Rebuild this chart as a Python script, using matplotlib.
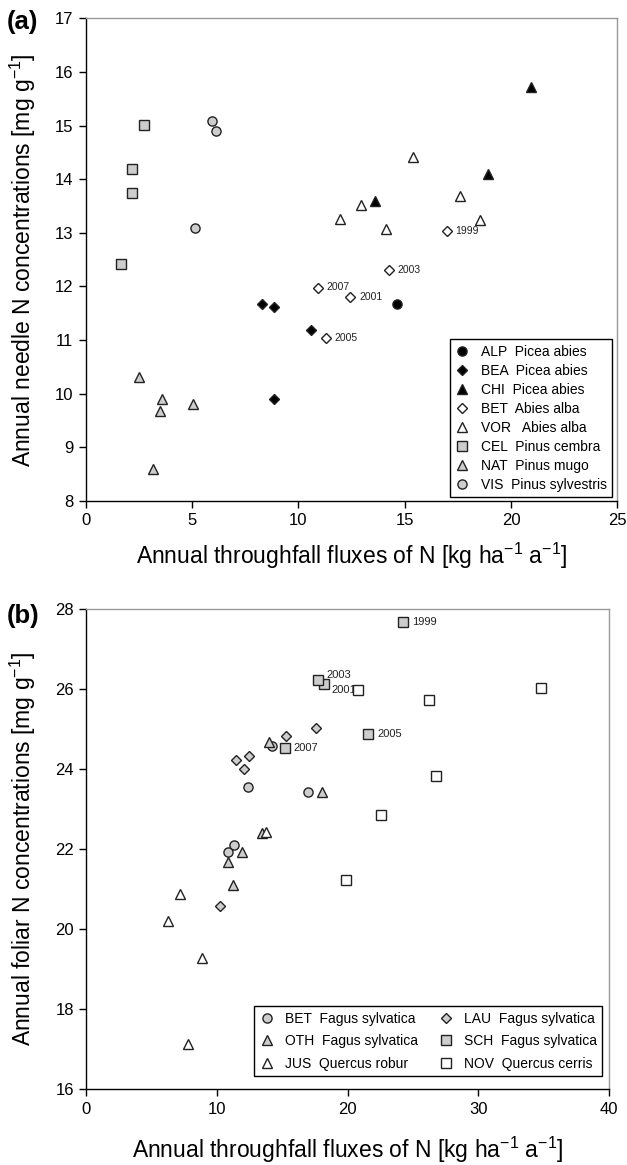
import matplotlib.pyplot as plt

plt.rcParams['font.family'] = ['Liberation Sans', 'DejaVu Sans']
plt.rcParams['mathtext.default'] = 'regular'

# ---- panel (a): conifer plots ----
alp_x = [14.65]
alp_y = [11.67]
bea_x = [8.27, 8.85, 10.59, 8.84]
bea_y = [11.67, 11.61, 11.18, 9.91]
chi_x = [13.62, 18.93, 20.92]
chi_y = [13.60, 14.09, 15.72]
beta_x = [16.97, 12.43, 14.25, 11.28, 10.91]
beta_y = [13.04, 11.81, 12.30, 11.04, 11.97]
beta_years = ['1999', '2001', '2003', '2005', '2007']
vor_x = [11.94, 12.94, 14.13, 15.37, 17.61, 18.55]
vor_y = [13.25, 13.52, 13.07, 14.41, 13.68, 13.24]
cel_x = [2.76, 2.19, 2.16, 1.64]
cel_y = [15.02, 14.19, 13.74, 12.42]
nat_x = [2.49, 3.57, 3.51, 5.04, 3.18]
nat_y = [10.32, 9.91, 9.68, 9.80, 8.60]
vis_x = [5.92, 6.11, 5.12]
vis_y = [15.09, 14.90, 13.10]

# ---- panel (b): broadleaf plots ----
betb_x = [14.22, 12.36, 11.27, 10.86, 16.93]
betb_y = [24.57, 23.55, 22.11, 21.92, 23.42]
oth_x = [13.94, 18.02, 13.46, 11.88, 10.81, 11.24]
oth_y = [24.67, 23.43, 22.40, 21.94, 21.67, 21.11]
jus_x = [13.76, 7.16, 6.25, 8.82, 7.80]
jus_y = [22.42, 20.87, 20.21, 19.27, 17.12]
lau_x = [11.45, 12.44, 12.03, 15.27, 17.61, 10.22]
lau_y = [24.23, 24.32, 24.01, 24.82, 25.02, 20.59]
sch_x = [24.24, 18.22, 17.74, 21.56, 15.19]
sch_y = [27.67, 26.13, 26.23, 24.89, 24.54]
sch_years = ['1999', '2001', '2003', '2005', '2007']
nov_x = [20.82, 26.22, 34.82, 26.79, 22.53, 19.85]
nov_y = [25.99, 25.72, 26.02, 23.83, 22.85, 21.22]

gray = '#cdcdcd'
edge = '#222222'

# year label offsets in points
offs_a = [(6.5, 0), (6.5, 0), (6.5, 0), (6.5, 0), (6.5, 0.5)]
offs_b = [(6.5, 0), (5, -4), (6, 3.6), (6.5, 0), (6.5, 0)]

fig = plt.figure(figsize=(6.27, 11.65), dpi=100)
ax1 = fig.add_axes([0.1367, 0.5700, 0.848, 0.4142])
ax2 = fig.add_axes([0.1376, 0.0652, 0.834, 0.4118])


def pts(ax, x, y, marker, fc, label, ms=6.6):
    ax.plot(x, y, ls='none', marker=marker, ms=ms, mfc=fc, mec=edge,
            mew=1.0, label=label, zorder=3)


def style(ax):
    for s in ['top', 'right']:
        ax.spines[s].set_color('#9a9a9a')
        ax.spines[s].set_linewidth(1.0)
    for s in ['left', 'bottom']:
        ax.spines[s].set_color('black')
        ax.spines[s].set_linewidth(1.0)
    ax.tick_params(direction='out', length=5, width=1, labelsize=12,
                   top=False, right=False, pad=4)


# (a)
pts(ax1, alp_x, alp_y, 'o', 'black', 'ALP  Picea abies')
pts(ax1, bea_x, bea_y, 'D', 'black', 'BEA  Picea abies', ms=5.6)
pts(ax1, chi_x, chi_y, '^', 'black', 'CHI  Picea abies', ms=7.2)
pts(ax1, beta_x, beta_y, 'D', 'white', 'BET  Abies alba', ms=5.4)
pts(ax1, vor_x, vor_y, '^', 'white', 'VOR   Abies alba', ms=7.2)
pts(ax1, cel_x, cel_y, 's', gray, 'CEL  Pinus cembra')
pts(ax1, nat_x, nat_y, '^', gray, 'NAT  Pinus mugo', ms=7.2)
pts(ax1, vis_x, vis_y, 'o', gray, 'VIS  Pinus sylvestris')
for x, y, t, o in zip(beta_x, beta_y, beta_years, offs_a):
    ax1.annotate(t, (x, y), xytext=o, textcoords='offset points',
                 ha='left', va='center', fontsize=7.5, color='#222222', zorder=2)

ax1.set_xlim(0, 25)
ax1.set_ylim(8, 17)
ax1.set_xticks(range(0, 26, 5))
ax1.set_yticks(range(8, 18))
style(ax1)
ax1.set_xlabel('Annual throughfall fluxes of N [kg ha$^{-1}$ a$^{-1}$]',
               fontsize=16.5, labelpad=9)
ax1.set_ylabel('Annual needle N concentrations [mg g$^{-1}$]',
               fontsize=16.5, labelpad=12)
leg1 = ax1.legend(loc='lower right', bbox_to_anchor=(0.99, 0.008),
                  borderaxespad=0, fontsize=10, frameon=True, fancybox=False,
                  edgecolor='black', framealpha=1, handlelength=1.0,
                  handletextpad=0.8, labelspacing=0.36, borderpad=0.4)
leg1.get_frame().set_linewidth(1.0)

# (b)
pts(ax2, betb_x, betb_y, 'o', gray, 'BET  Fagus sylvatica')
pts(ax2, oth_x, oth_y, '^', gray, 'OTH  Fagus sylvatica', ms=7.2)
pts(ax2, jus_x, jus_y, '^', 'white', 'JUS  Quercus robur', ms=7.2)
pts(ax2, lau_x, lau_y, 'D', gray, 'LAU  Fagus sylvatica', ms=5.4)
pts(ax2, sch_x, sch_y, 's', gray, 'SCH  Fagus sylvatica')
pts(ax2, nov_x, nov_y, 's', 'white', 'NOV  Quercus cerris')
for x, y, t, o in zip(sch_x, sch_y, sch_years, offs_b):
    ax2.annotate(t, (x, y), xytext=o, textcoords='offset points',
                 ha='left', va='center', fontsize=8, color='#222222', zorder=2)

ax2.set_xlim(0, 40)
ax2.set_ylim(16, 28)
ax2.set_xticks(range(0, 41, 10))
ax2.set_yticks(range(16, 29, 2))
style(ax2)
ax2.set_xlabel('Annual throughfall fluxes of N [kg ha$^{-1}$ a$^{-1}$]',
               fontsize=16.5, labelpad=13)
ax2.set_ylabel('Annual foliar N concentrations [mg g$^{-1}$]',
               fontsize=16.5, labelpad=12)
leg2 = ax2.legend(loc='lower right', bbox_to_anchor=(0.9866, 0.027), ncol=2,
                  borderaxespad=0, fontsize=10, frameon=True, fancybox=False,
                  edgecolor='black', framealpha=1, handlelength=1.0,
                  handletextpad=0.8, labelspacing=0.6, borderpad=0.4,
                  columnspacing=1.5)
leg2.get_frame().set_linewidth(1.0)

fig.text(0.011, 0.981, '(a)', fontsize=18.5, fontweight='bold', ha='left', va='center')
fig.text(0.011, 0.4714, '(b)', fontsize=18.5, fontweight='bold', ha='left', va='center')

fig.savefig('out.png', dpi=100)
